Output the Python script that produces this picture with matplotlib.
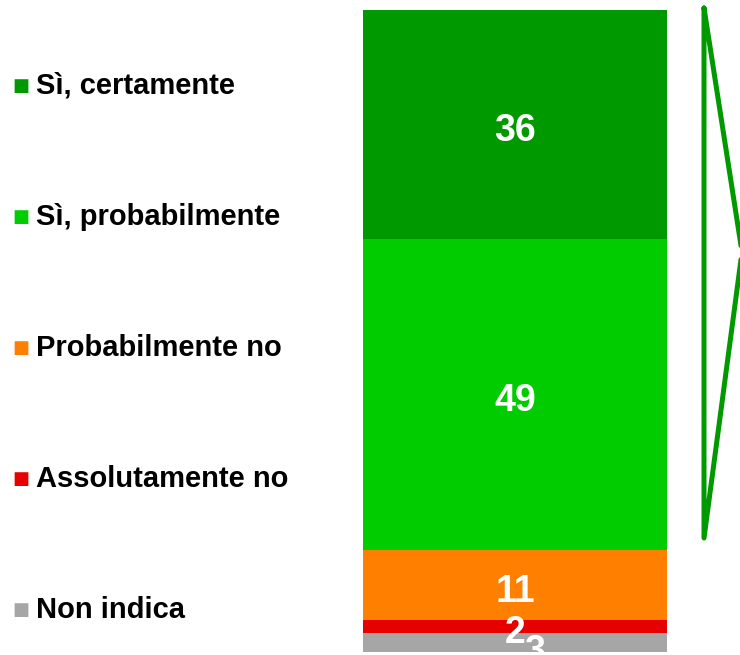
import matplotlib
matplotlib.use("Agg")
import matplotlib.pyplot as plt
from matplotlib.lines import Line2D

plt.rcParams["font.family"] = ["Liberation Sans", "DejaVu Sans"]

# bottom -> top stacking order
categories = ["Non indica", "Assolutamente no", "Probabilmente no",
              "Sì, probabilmente", "Sì, certamente"]
values = [3, 2, 11, 49, 36]
colors = ["#A6A6A6", "#E60000", "#FF8000", "#00CC00", "#009900"]
# label nudges in points (the "3" sits down-right of the "2" in the original)
label_dx = [14, 0, 0, 0, 0]
label_dy = [-7, -4.5, -4.5, -4.5, -4.5]

W, H = 740, 655
fig = plt.figure(figsize=(W / 100, H / 100), dpi=100)

# stacked bar
ax = fig.add_axes([363 / W, 3 / H, 304 / W, 642 / H])
total = sum(values)
bottom = 0
for v, c, dx, dy in zip(values, colors, label_dx, label_dy):
    ax.bar(0, v, bottom=bottom, width=1.0, color=c, edgecolor="none")
    ax.annotate(str(v), (0, bottom + v / 2), xytext=(dx, dy),
                textcoords="offset points", ha="center", va="center",
                color="white", fontsize=27, fontweight="bold",
                annotation_clip=False)
    bottom += v
ax.set_xlim(-0.5, 0.5)
ax.set_ylim(0, total)
ax.axis("off")

# legend on the left, top to bottom
leg_y0, leg_step = 86, 131
for i, (lab, c) in enumerate(zip(categories[::-1], colors[::-1])):
    y = 1 - (leg_y0 + i * leg_step) / H
    fig.text(12 / W, y, "\u25A0", color=c, fontsize=13, ha="left", va="center",
             family=["DejaVu Sans"])
    fig.text(36 / W, y, lab, fontsize=21, fontweight="bold", ha="left",
             va="center", color="black")

# green bracket on the right
bx = [704 / W, 742 / W, 704 / W, 704 / W]
by = [1 - 8 / H, 1 - 252 / H, 1 - 538 / H, 1 - 8 / H]
fig.add_artist(Line2D(bx, by, transform=fig.transFigure, color="#009900",
                      lw=3.6, solid_joinstyle="round", solid_capstyle="round"))

fig.savefig("out.png", dpi=100)
